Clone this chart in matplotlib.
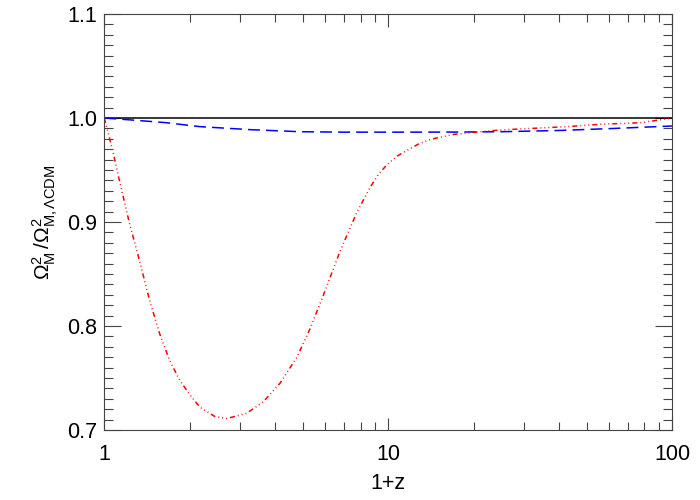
import numpy as np
import matplotlib
matplotlib.use('Agg')
import matplotlib.pyplot as plt
from matplotlib.ticker import FixedLocator, MultipleLocator, NullFormatter

plt.rcParams['font.family'] = ['Liberation Sans', 'DejaVu Sans']
plt.rcParams['mathtext.fontset'] = 'custom'
plt.rcParams['mathtext.rm'] = 'Liberation Sans'
plt.rcParams['mathtext.it'] = 'Liberation Sans:italic'

# reference LCDM
x_ref = [1, 100]
y_ref = [1.0, 1.0]

# blue dashed model
x_blue = [1.0, 1.26, 1.65, 2.17, 3.26, 4.9, 7.0, 11, 18, 25, 40, 63, 100]
y_blue = [1.000, 0.998, 0.9955, 0.9917, 0.9888, 0.9868, 0.9864, 0.9864,
          0.9865, 0.9868, 0.9880, 0.9900, 0.9923]

# red dash-dot-dot-dot model
x_red = [1.0, 1.07, 1.13, 1.226, 1.33, 1.443, 1.565, 1.698, 1.842, 2.0,
         2.17, 2.45, 2.70, 3.17, 3.63, 4.16, 4.77, 5.04, 5.3, 5.92, 6.77,
         7.78, 8.67, 9.25, 9.9, 10.7, 11.67, 12.8, 14.1, 17.1, 21.1, 24.9,
         32, 42.8, 56.2, 78, 100]
y_red = [1.000, 0.969, 0.940, 0.899, 0.863, 0.825, 0.793, 0.767, 0.748,
         0.734, 0.722, 0.713, 0.711, 0.716, 0.727, 0.745, 0.770, 0.784,
         0.797, 0.830, 0.872, 0.910, 0.934, 0.946, 0.955, 0.963, 0.969,
         0.975, 0.9795, 0.9843, 0.9868, 0.9885, 0.9900, 0.9917, 0.9940,
         0.9955, 1.000]

fig = plt.figure(figsize=(7, 5), dpi=100)
ax = fig.add_axes([0.149, 0.14, 0.811, 0.832])

ax.plot(x_ref, y_ref, color='black', lw=1.1)
ax.plot(x_blue, y_blue, color='#0000ff', lw=1.1, dashes=(7.8, 4.0))
ax.plot(x_red, y_red, color='#ff0000', lw=1.1,
        dashes=(3.3, 2.0, 0.6, 2.0, 0.6, 2.0, 0.6, 2.0))

ax.set_xscale('log')
ax.set_xlim(1, 100)
ax.set_ylim(0.7, 1.1)

ax.xaxis.set_major_locator(FixedLocator([1, 10, 100]))
ax.set_xticklabels(['1', '10', '100'])
ax.xaxis.set_minor_locator(FixedLocator([m * d for d in (1, 10) for m in range(2, 10)]))
ax.xaxis.set_minor_formatter(NullFormatter())
ax.yaxis.set_major_locator(FixedLocator([0.7, 0.8, 0.9, 1.0, 1.1]))
ax.set_yticklabels(['0.7', '0.8', '0.9', '1.0', '1.1'])
ax.yaxis.set_minor_locator(MultipleLocator(0.01))

ax.tick_params(which='both', direction='in', top=True, right=True,
               color='#444444', width=0.8, labelsize=15.5)
ax.tick_params(axis='x', which='major', length=9, pad=10)
ax.tick_params(axis='x', which='minor', length=5.5)
ax.tick_params(axis='y', which='major', length=12, pad=5)
ax.tick_params(axis='y', which='minor', length=6.5)
for s in ax.spines.values():
    s.set_color('#444444')
    s.set_linewidth(0.8)

ax.set_xlabel('1+z', fontsize=15.5, labelpad=6)
ax.set_ylabel(r'$\Omega^2_{\rm M}\,/\Omega^2_{\rm M,\Lambda CDM}$', fontsize=15, labelpad=5)

plt.savefig('out.png', dpi=100)
